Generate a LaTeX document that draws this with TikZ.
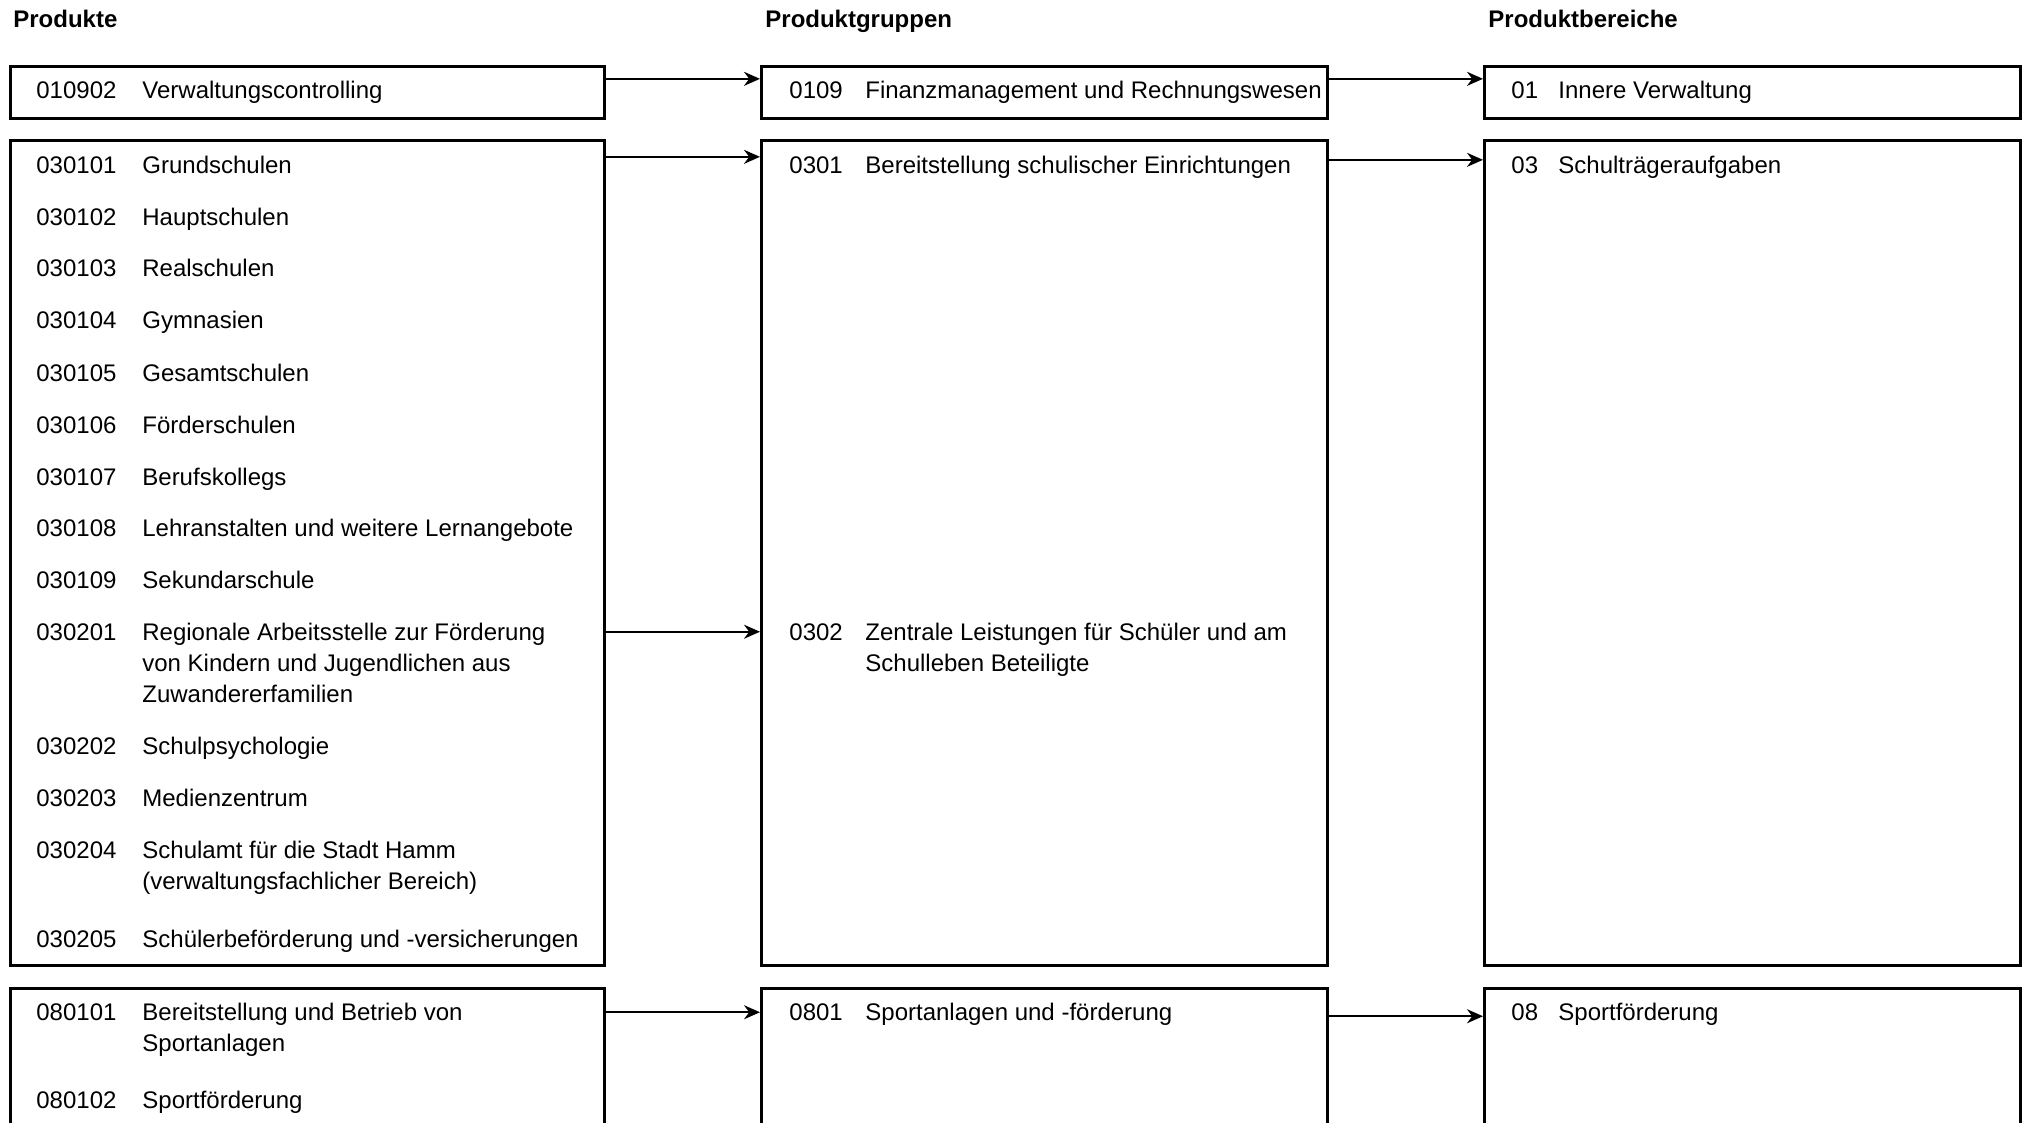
\documentclass[tikz,border=0pt]{standalone}
\usepackage{fontspec}
\setmainfont{Liberation Sans}
\usetikzlibrary{arrows.meta}
\tikzset{
  box/.style={draw,line width=1.5pt,anchor=north west,inner sep=0pt},
  nr/.style={anchor=base west,inner sep=0pt,font=\fontsize{12}{15.5}\selectfont},
  txt/.style={anchor=base west,inner sep=0pt,align=left,font=\fontsize{12}{15.5}\selectfont},
  head/.style={anchor=base west,inner sep=0pt,font=\bfseries\fontsize{12}{14}\selectfont},
  link/.style={-{Stealth[length=8pt,width=7pt]},line width=1pt}
}
\begin{document}
\begin{tikzpicture}[x=0.5pt,y=-0.5pt]
  \clip (0,0) rectangle (2024,1123);
  % column heads
  \node[head] (hprod) at (13,28) {Produkte};
  \node[head] (hgrp) at (765,28) {Produktgruppen};
  \node[head] (hber) at (1488,28) {Produktbereiche};
  % boxes
  \node[box,minimum width=297pt,minimum height=26pt] (p01) at (9,65) {};
  \node[box,minimum width=297pt,minimum height=412.5pt] (p03) at (9,139) {};
  \node[box,minimum width=297pt,minimum height=80pt] (p08) at (9,987) {};
  \node[box,minimum width=283pt,minimum height=26pt] (g01) at (760,65) {};
  \node[box,minimum width=283pt,minimum height=412.5pt] (g03) at (760,139) {};
  \node[box,minimum width=283pt,minimum height=80pt] (g08) at (760,987) {};
  \node[box,minimum width=268pt,minimum height=26pt] (b01) at (1483,65) {};
  \node[box,minimum width=268pt,minimum height=412.5pt] (b03) at (1483,139) {};
  \node[box,minimum width=268pt,minimum height=80pt] (b08) at (1483,987) {};
  % Produkte (several lines: placed at the last line)
  \node[nr] (n010902) at (36,99) {010902};
  \node[txt] at (142,99) {Verwaltungscontrolling};
  \node[nr] (n030101) at (36,174) {030101};
  \node[txt] at (142,174) {Grundschulen};
  \node[nr] at (36,225.5) {030102};
  \node[txt] at (142,225.5) {Hauptschulen};
  \node[nr] at (36,277) {030103};
  \node[txt] at (142,277) {Realschulen};
  \node[nr] at (36,328.5) {030104};
  \node[txt] at (142,328.5) {Gymnasien};
  \node[nr] at (36,381.5) {030105};
  \node[txt] at (142,381.5) {Gesamtschulen};
  \node[nr] at (36,433) {030106};
  \node[txt] at (142,433) {Förderschulen};
  \node[nr] at (36,485) {030107};
  \node[txt] at (142,485) {Berufskollegs};
  \node[nr] at (36,536.5) {030108};
  \node[txt] at (142,536.5) {Lehranstalten und weitere Lernangebote};
  \node[nr] at (36,588) {030109};
  \node[txt] at (142,588) {Sekundarschule};
  \node[nr] (n030201) at (36,640) {030201};
  \node[txt] at (142,702) {Regionale Arbeitsstelle zur Förderung\\von Kindern und Jugendlichen aus\\Zuwandererfamilien};
  \node[nr] at (36,754.5) {030202};
  \node[txt] at (142,754.5) {Schulpsychologie};
  \node[nr] at (36,806) {030203};
  \node[txt] at (142,806) {Medienzentrum};
  \node[nr] at (36,858) {030204};
  \node[txt] at (142,889) {Schulamt für die Stadt Hamm\\(verwaltungsfachlicher Bereich)};
  \node[nr] at (36,947) {030205};
  \node[txt] at (142,947) {Schülerbeförderung und -versicherungen};
  \node[nr] (n080101) at (36,1020.5) {080101};
  \node[txt] at (142,1051.5) {Bereitstellung und Betrieb von\\Sportanlagen};
  \node[nr] at (36,1108) {080102};
  \node[txt] at (142,1108) {Sportförderung};
  % Produktgruppen
  \node[nr] (n0109) at (789,99) {0109};
  \node[txt] at (865,99) {Finanzmanagement und Rechnungswesen};
  \node[nr] (n0301) at (789,174) {0301};
  \node[txt] at (865,174) {Bereitstellung schulischer Einrichtungen};
  \node[nr] (n0302) at (789,640) {0302};
  \node[txt] at (865,671) {Zentrale Leistungen für Schüler und am\\Schulleben Beteiligte};
  \node[nr] (n0801) at (789,1020.5) {0801};
  \node[txt] at (865,1020.5) {Sportanlagen und -förderung};
  % Produktbereiche
  \node[nr] (n01) at (1511,99) {01};
  \node[txt] at (1558,99) {Innere Verwaltung};
  \node[nr] (n03) at (1511,174) {03};
  \node[txt] at (1558,174) {Schulträgeraufgaben};
  \node[nr] (n08) at (1511,1020.5) {08};
  \node[txt] at (1558,1020.5) {Sportförderung};
  % arrows
  \draw[link] ([yshift=1.5pt]p01.east |- n010902.north) -- ([yshift=1.5pt]g01.west |- n010902.north);
  \draw[link] ([yshift=1.5pt]g01.east |- n0109.north) -- ([yshift=1.5pt]b01.west |- n0109.north);
  \draw[link] (p03.east |- n030101.north) -- (g03.west |- n030101.north);
  \draw[link] ([yshift=-1.5pt]g03.east |- n0301.north) -- ([yshift=-1.5pt]b03.west |- n0301.north);
  \draw[link] (p03.east |- n030201.center) -- (g03.west |- n030201.center);
  \draw[link] (p08.east |- n080101.center) -- (g08.west |- n080101.center);
  \draw[link] ([yshift=-2pt]g08.east |- n0801.center) -- ([yshift=-2pt]b08.west |- n0801.center);
\end{tikzpicture}
\end{document}
